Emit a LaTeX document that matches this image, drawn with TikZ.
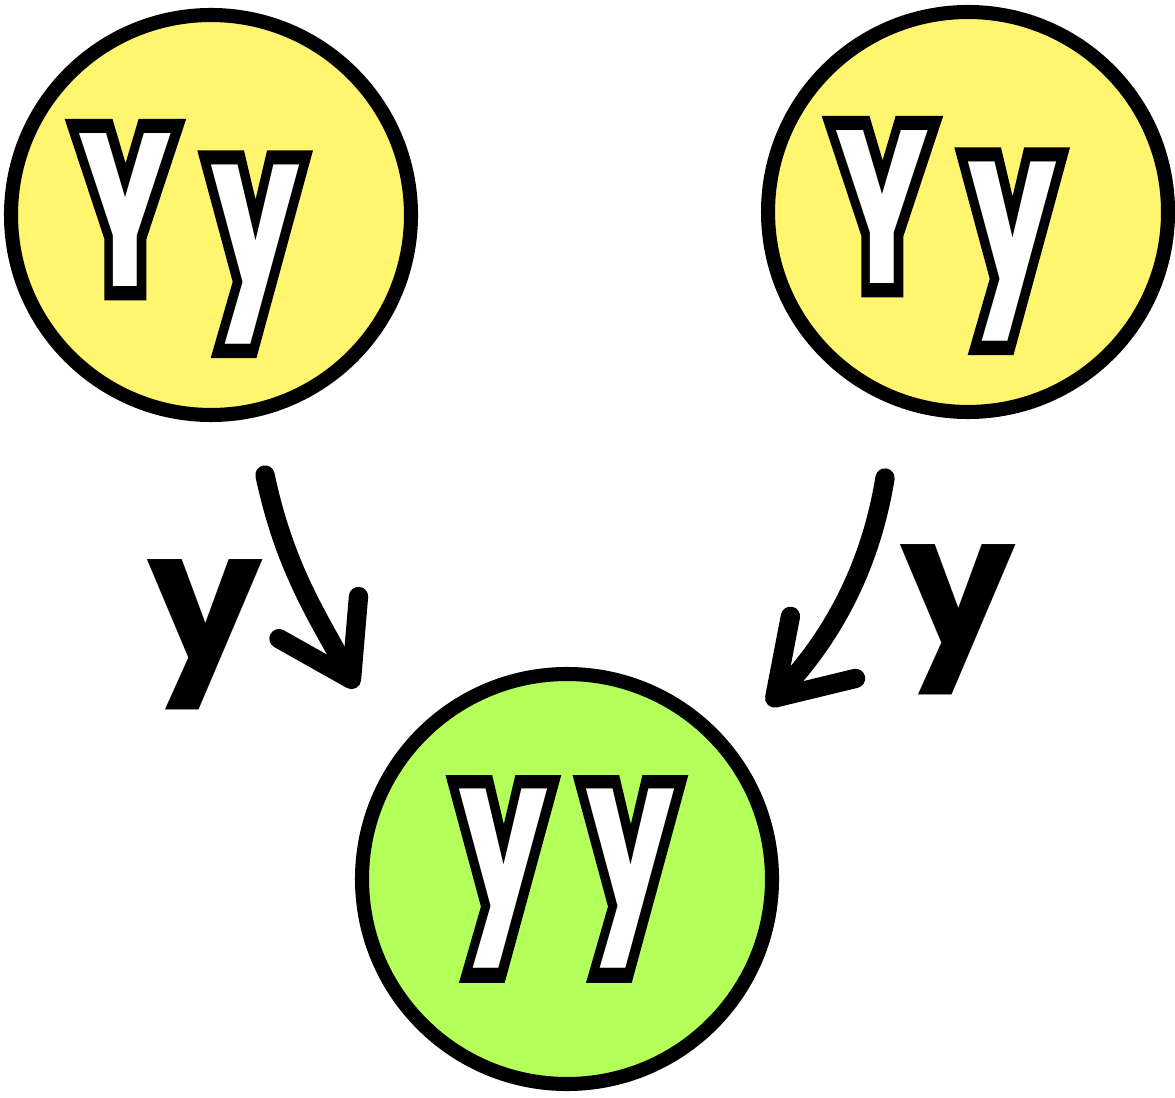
\documentclass[tikz,border=0pt]{standalone}
\usepackage{fontspec}
\usepackage{graphicx}
\newfontfamily\handfont{Poppins}
\newfontfamily\halofont{Poppins}[FakeBold=13]
\usetikzlibrary{arrows.meta, positioning}
\definecolor{paleyellow}{RGB}{255,245,110}
\definecolor{limegreen}{RGB}{180,255,90}

\tikzset{
  allele/.style={circle, draw=black, line width=4pt, minimum size=40mm, inner sep=0pt,
    text=white, font=\handfont\bfseries\fontsize{62}{62}\selectfont},
  gamete/.style={text=black, font=\handfont\bfseries\fontsize{52}{52}\selectfont},
  passarrow/.style={line width=5.5pt, line cap=round,
    -{Straight Barb[length=7mm, width=9mm, line cap=round, line join=round]}}
}
\newcommand{\handtext}[1]{\scalebox{0.64}[1]{\rlap{\color{black}\halofont\bfseries #1}#1}}

\begin{document}
\begin{tikzpicture}[x=0.1mm, y=-0.1mm]
  \useasboundingbox (0,0) rectangle (1175,1097);
  % parents
  \node[allele, fill=paleyellow] (momYy) at (211,215)
    {\rule{0pt}{20mm}\handtext{Y\kern0.28em y}\hspace*{4.4mm}};
  \node[allele, fill=paleyellow] (dadYy) at (968,212)
    {\rule{0pt}{20mm}\handtext{Y\kern0.28em y}\hspace*{4.4mm}};
  % offspring
  \node[allele, fill=limegreen, minimum size=41mm] (kidyy) at (567,879)
    {\handtext{y\kern0.28em y}};
  % gametes passed on
  \coordinate (momOut) at (265,475);
  \coordinate (momIn) at (356,688);
  \coordinate (dadOut) at (885,478);
  \coordinate (dadIn) at (768,705);
  \draw[passarrow] (momOut) .. controls (285,570) and (320,620) .. (momIn);
  \draw[passarrow] (dadOut) .. controls (870,570) and (830,640) .. (dadIn);
  \node[gamete] (momy) at (205,635) {y};
  \node[gamete] (dady) at (958,620) {y};
\end{tikzpicture}
\end{document}
